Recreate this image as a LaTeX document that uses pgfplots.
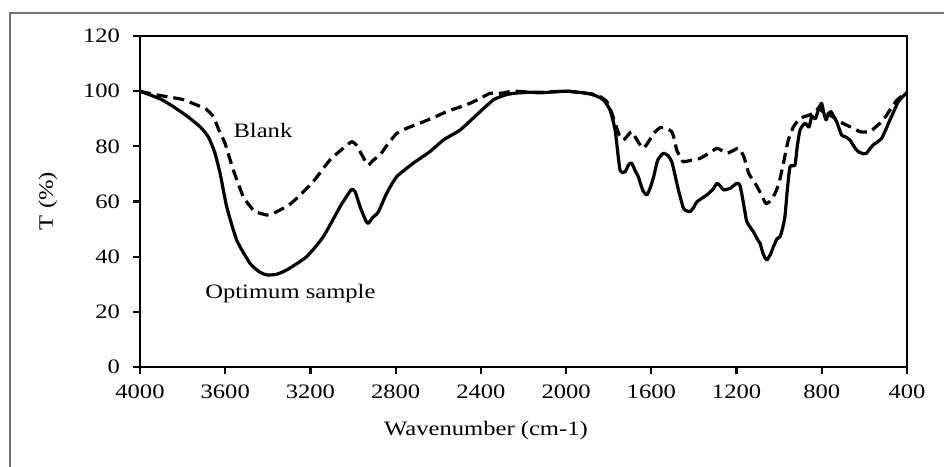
\documentclass[border=0pt]{standalone}
\usepackage{fontspec}
\setmainfont{Liberation Serif}[FakeStretch=1.2]
\usepackage{pgfplots}
\pgfplotsset{compat=1.18}
\pgfplotstableread{
x y
4000 100
3992 99.8
3900 97
3844 94.4
3780 91
3718 87.1
3680 83.5
3650 78
3624 70.2
3593 58.1
3546 46.0
3484 37.6
3440 34.5
3405 33.4
3360 33.6
3311 35.2
3218 40.0
3140 47.2
3061 58.1
3025 62.5
3006 64.4
2990 63.5
2967 58.1
2940 53
2928 52.1
2910 54
2881 56.3
2842 63.0
2795 69.0
2717 73.9
2639 78.1
2576 82.3
2498 85.9
2420 91.4
2342 96.8
2290 98.5
2248 99.2
2177 99.6
2122 99.4
2050 99.8
1997 100
1940 99.6
1888 99
1850 98
1825 96.8
1794 93.2
1770 85.9
1755 76
1747 71.4
1735 70.5
1723 70.8
1705 73.5
1692 73.9
1675 71
1661 69.0
1640 64
1621 62.4
1605 65
1589 69.0
1570 75
1543 77.5
1520 76.5
1504 74.4
1490 70
1473 64.2
1449 57.5
1430 56.5
1418 56.3
1400 58
1386 59.9
1339 62.4
1310 64.5
1292 66.6
1275 65.5
1261 64.2
1230 64.8
1199 66.6
1185 66
1176 63.0
1160 56
1152 52.7
1130 50
1121 49.1
1100 46
1090 44.9
1075 41
1058 38.8
1040 41
1027 43.6
1010 46.5
996 47.2
985 50
973 54.5
962 64
949 72.6
926 73.2
915 80
902 85.9
879 88.4
860 87
847 90.8
830 90
816 93.2
801 95.6
790 92
780 89.6
770 91.5
757 92.6
745 91
730 88.9
707 84.1
690 83.5
668 82.3
645 79.5
629 78.1
605 77.3
590 77.5
575 79
559 80.5
540 81.5
519 82.9
500 86
480 89.6
460 93
441 96.2
420 98
404 99.2
400 99.5
}\optimum
\pgfplotstableread{
x y
4000 100
3992 99.8
3930 98.8
3875 98.0
3800 97
3734 95.0
3690 93.5
3656 90.8
3630 86
3601 81.1
3562 71.4
3515 61.7
3480 58
3460 56.3
3405 55.1
3380 55.5
3343 56.9
3300 58.8
3264 61.2
3187 67.2
3108 75.1
3046 79.3
3006 81.7
2985 80.5
2967 78.1
2945 75
2928 73.2
2905 75
2873 76.9
2840 80.5
2795 84.7
2740 86.8
2686 88.4
2620 90.5
2560 92.6
2500 94.2
2451 95.6
2400 97.5
2357 99.2
2300 99.3
2248 100
2150 99.6
2050 99.8
1997 100
1900 99.2
1850 98.5
1809 96.2
1790 93
1770 88.4
1750 84
1731 82.3
1710 84
1692 85.3
1665 82
1638 79.3
1610 82
1589 84.7
1558 86.8
1530 86.5
1504 85.3
1490 82
1481 78.7
1460 75.5
1449 74.4
1410 75
1370 75.7
1330 77.5
1292 79.3
1270 78.5
1245 77.5
1215 78.5
1190 79.3
1166 76.3
1143 70.2
1120 67.5
1104 65.4
1080 62
1063 59.3
1045 60
1019 63.0
1000 67
980 73.9
957 82.3
933 87.1
915 89
902 90.2
880 90.8
856 91.4
830 92.5
809 94.4
795 92
780 92.5
762 91.4
745 90.5
730 89.6
700 88.3
684 87.7
650 86.5
621 85.3
600 85.2
574 85.3
550 86.8
527 88.4
500 90.8
480 93.2
450 96.5
410 99.2
400 99.5
}\blank
\begin{document}
\fontsize{20.5}{24}\selectfont
\begin{tikzpicture}
\useasboundingbox (0,0) rectangle (944pt,-466pt);
\draw[black!55, line width=1.2pt] (10pt,-480pt) -- (10pt,-13pt) -- (960pt,-13pt);
\begin{axis}[
  at={(140pt,-367pt)}, anchor=south west,
  scale only axis, width=767pt, height=331pt,
  xmin=400, xmax=4000, x dir=reverse, ymin=0, ymax=120,
  xtick={400,800,...,4000}, ytick={0,20,...,120},
  tick align=outside, major tick length=7pt,
  xtick pos=bottom, ytick pos=left,
  axis line style={line width=2.4pt},
  every tick/.style={black, line width=2.2pt},
  /pgf/number format/1000 sep={},
  /pgf/number format/assume math mode=true,
  xticklabel style={anchor=base, yshift=-24pt},
  yticklabel style={anchor=east, xshift=-6pt},
]
\addplot[black, line width=3.2pt, line join=round, smooth, tension=0.35] table[x=x,y=y] {\optimum};
\addplot[black, line width=3.2pt, line join=round, smooth, tension=0.35, dash pattern=on 11pt off 6pt] table[x=x,y=y] {\blank};
\node at (axis cs:3423,85.9) {Blank};
\node at (axis cs:3294,26.5) {Optimum sample};
\end{axis}
\node[anchor=base] at (486pt,-435pt) {Wavenumber (cm-1)};
\node[rotate=90] at (48pt,-201pt) {T (\%)};
\end{tikzpicture}
\end{document}
